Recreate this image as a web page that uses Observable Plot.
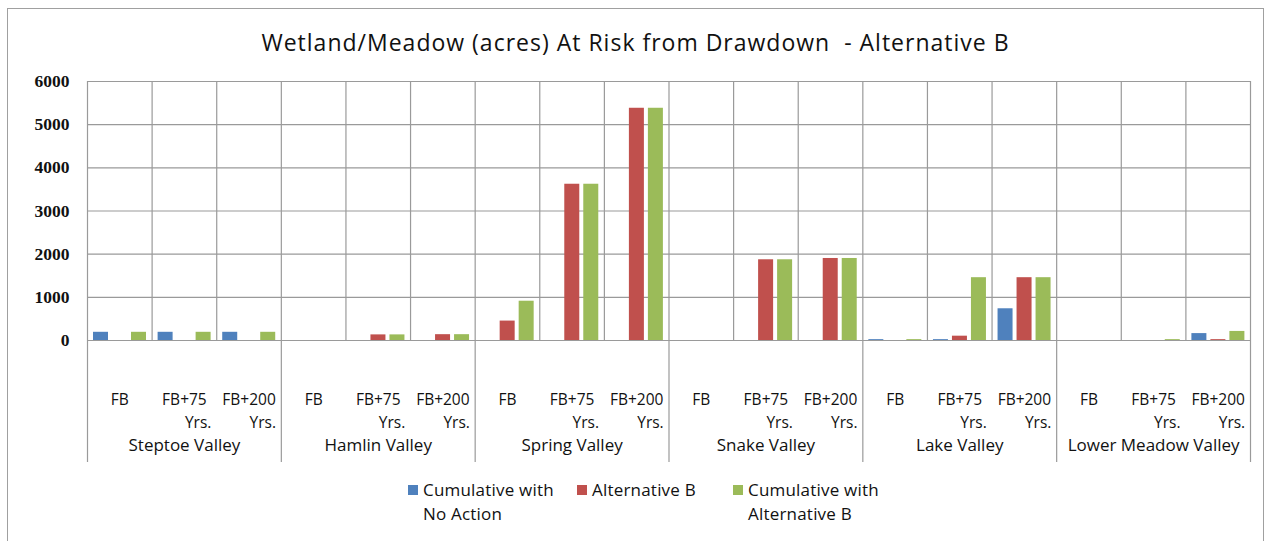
<!DOCTYPE html>
<html>
<head>
<meta charset="utf-8">
<script src="https://cdn.jsdelivr.net/npm/d3@7"></script>
<script src="https://cdn.jsdelivr.net/npm/@observablehq/plot@0.6"></script>
<style>
  html, body { margin: 0; padding: 0; background: #fff; }
  #wrap { position: relative; width: 1271px; height: 541px; overflow: hidden; font-family: "Open Sans", sans-serif; }
  #frame { position: absolute; left: 7px; top: 8px; width: 1257px; height: 540px; border: 1px solid #a0a0a0; box-sizing: border-box; }
  #title { position: absolute; left: 0; width: 1271px; top: 26px; text-align: center; font-size: 23px; color: #111; letter-spacing: 1px; }
  #chart { position: absolute; left: 0; top: 0; }
  .leg { position: absolute; font-size: 17px; line-height: 24px; color: #111; letter-spacing: 0.2px; }
  .sw { position: absolute; width: 10px; height: 10px; }
</style>
</head>
<body>
<div id="wrap">
  <div id="frame"></div>
  <div id="chart"></div>
  <div id="title">Wetland/Meadow (acres) At Risk from Drawdown&nbsp; - Alternative B</div>
  <div id="legend"></div>
</div>
<script>
const groups = ["Steptoe Valley", "Hamlin Valley", "Spring Valley", "Snake Valley", "Lake Valley", "Lower Meadow Valley"];
const periods = ["FB", "FB+75 Yrs.", "FB+200 Yrs."];
const periodLine1 = ["FB", "FB+75", "FB+200"];
const periodLine2 = ["", "Yrs.", "Yrs."];
const seriesNames = ["Cumulative with No Action", "Alternative B", "Cumulative with Alternative B"];
const seriesColors = ["#4F81BD", "#C0504D", "#9BBB59"];
// values per group x period (Steptoe FB, FB+75, FB+200, Hamlin ..., ...)
const noAction = [190, 190, 190, 0, 0, 0, 0, 0, 0, 0, 0, 0, 20, 20, 735, 0, 0, 160];
const altB     = [0, 0, 0, 0, 130, 135, 450, 3620, 5380, 0, 1870, 1900, 0, 100, 1455, 0, 0, 20];
const cumAltB  = [190, 190, 190, 0, 130, 135, 910, 3620, 5380, 0, 1870, 1900, 20, 1455, 1455, 0, 20, 210];
const yTicks = [0, 1000, 2000, 3000, 4000, 5000, 6000];

const rows = [];
groups.forEach((g, gi) => periods.forEach((p, pi) => {
  const i = gi * 3 + pi;
  rows.push({key: g + "|" + p, group: g, gi, pi, l1: periodLine1[pi], l2: periodLine2[pi],
             v0: noAction[i], v1: altB[i], v2: cumAltB[i]});
}));
const keys = rows.map(d => d.key);
const groupRows = rows.filter(d => d.pi === 1);
const groupStarts = rows.filter(d => d.pi === 0);
const interior = rows.filter(d => d.pi !== 0);

const W = 1271, H = 541, mL = 87, mR = 21, mT = 81, mB = 201;
const bw = (W - mL - mR) / keys.length;
const pxPerUnit = (H - mT - mB) / 6000;
const belowUnits = (462 - (H - mB)) / pxPerUnit; // extension of group separators below axis
const grid = "#9a9a9a";

const chart = Plot.plot({
  width: W, height: H,
  marginLeft: mL, marginRight: mR, marginTop: mT, marginBottom: mB,
  style: {fontFamily: "'Open Sans', sans-serif", background: "transparent", overflow: "visible"},
  x: {type: "band", domain: keys, padding: 0, round: false, axis: null},
  y: {domain: [0, 6000], axis: null},
  marks: [
    Plot.ruleY(yTicks, {stroke: grid, strokeWidth: 1.2}),
    Plot.ruleX(interior, {x: "key", y1: 0, y2: 6000, dx: -bw / 2, stroke: grid, strokeWidth: 1.2}),
    Plot.ruleX(groupStarts, {x: "key", y1: -belowUnits, y2: 6000, dx: -bw / 2, stroke: grid, strokeWidth: 1.2}),
    Plot.ruleX([keys[keys.length - 1]], {x: d => d, y1: -belowUnits, y2: 6000, dx: bw / 2, stroke: grid, strokeWidth: 1.2}),
    Plot.barY(rows, {x: "key", y: "v0", fill: seriesColors[0], insetLeft: 6, insetRight: bw - 21}),
    Plot.barY(rows, {x: "key", y: "v1", fill: seriesColors[1], insetLeft: 25, insetRight: bw - 40}),
    Plot.barY(rows, {x: "key", y: "v2", fill: seriesColors[2], insetLeft: 44, insetRight: bw - 59}),
    Plot.ruleY([0], {stroke: grid, strokeWidth: 1.2}),
    Plot.text(yTicks, {x: () => keys[0], y: d => d, text: d => String(d),
      dx: -bw / 2 - 18, textAnchor: "end", fontFamily: "'Liberation Serif', serif", fontWeight: "bold",
      fontSize: 17.5, letterSpacing: 0.8, fill: "#111"}),
    Plot.text(rows, {x: "key", y: () => 0, text: "l1", dy: 60, fontSize: 15.5, fill: "#111", textAnchor: "middle"}),
    Plot.text(rows.filter(d => d.l2), {x: "key", y: () => 0, text: "l2", dy: 83, fontSize: 15.5, fill: "#111",
      textAnchor: "end", dx: 27}),
    Plot.text(groupRows, {x: "key", y: () => 0, text: "group", dy: 105, fontSize: 17, fill: "#111"})
  ]
});
document.getElementById("chart").appendChild(chart);

// legend
const legend = document.getElementById("legend");
const legItems = [
  {x: 408, lines: ["Cumulative with", "No Action"]},
  {x: 577, lines: ["Alternative B"]},
  {x: 733, lines: ["Cumulative with", "Alternative B"]}
];
legItems.forEach((it, i) => {
  const sw = document.createElement("div");
  sw.className = "sw";
  sw.style.left = it.x + "px";
  sw.style.top = "485px";
  sw.style.background = seriesColors[i];
  legend.appendChild(sw);
  const t = document.createElement("div");
  t.className = "leg";
  t.style.left = (it.x + 15) + "px";
  t.style.top = "478px";
  t.innerHTML = it.lines.join("<br>");
  legend.appendChild(t);
});
</script>
</body>
</html>
